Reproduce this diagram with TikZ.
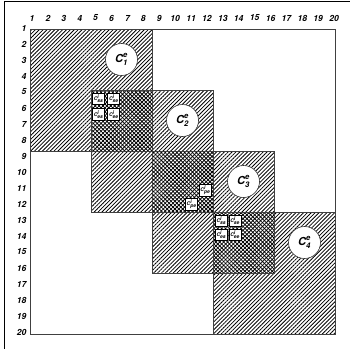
\documentclass[tikz,border=0pt]{standalone}
\usepackage{fontspec}
\usepackage{amsmath}
\setmainfont{TeX Gyre Heros}
\usetikzlibrary{patterns.meta}
\tikzset{
  hatch/.style={pattern={Lines[angle=45,distance=2.75pt,line width=0.8pt]}},
  hatchb/.style={pattern={Lines[angle=-45,distance=2.75pt,line width=0.8pt]}},
  blockline/.style={draw=black!75,line width=0.9pt},
  axislab/.style={font=\fontsize{8.5}{10}\selectfont\bfseries\itshape,inner sep=0pt},
  circ/.style={circle,draw=black!80,line width=0.6pt,fill=white,minimum size=32pt,inner sep=0pt,font=\fontsize{11}{12}\selectfont\bfseries},
  sbox/.style={rectangle,draw=black,line width=0.9pt,fill=white,minimum width=12pt,minimum height=11.5pt,inner sep=0pt,font=\fontsize{5}{6}\selectfont\bfseries}
}
\begin{document}
\begin{tikzpicture}[x=1pt,y=-1pt]
\useasboundingbox (0,0) rectangle (350,349);
\fill[white] (0,0) rectangle (350,349);
% frame lines
\coordinate (tl) at (4,1);
\coordinate (tr) at (350,1);
\coordinate (bl) at (4,349);
\draw[line width=0.8pt] (tr) -- (tl) -- (bl);
% axis labels
\foreach \i in {1,...,20}{
  \node[axislab] (col\i) at ({32+(\i-1)*15.9},18) {\i};
  \node[axislab,anchor=east] (row\i) at (26.5,{28+(\i-1)*16}) {\i};
}
\begin{scope}[shift={(30,29)},x=15.25pt,y=-15.25pt]
  \fill[white] (0,0) rectangle (20,20);
  \foreach \a in {0,4,8,12}{
    \fill[hatch] (\a,\a) rectangle ++(8,8);
  }
  \foreach \a in {4,8,12}{
    \fill[white] (\a,\a) rectangle ++(4,4);
    \fill[hatch] (\a,\a) rectangle ++(4,4);
    \fill[hatchb] (\a,\a) rectangle ++(4,4);
  }
  \draw[blockline] (0,0) rectangle (20,20);
  \foreach \a in {0,4,8,12}{
    \draw[blockline] (\a,\a) rectangle ++(8,8);
  }
  % circles
  \node[circ] (c1) at (6,2) {$\textit{C}^{\textit{e}}_{\textit{1}}$};
  \node[circ] (c2) at (10,6) {$\textit{C}^{\textit{e}}_{\textit{2}}$};
  \node[circ] (c3) at (14,10) {$\textit{C}^{\textit{e}}_{\textit{3}}$};
  \node[circ] (c4) at (18,14) {$\textit{C}^{\textit{e}}_{\textit{4}}$};
  % small boxes C1/C2
  \node[sbox] (a1) at (4.5,4.6) {$\textit{C}^{\textit{i}}_{\textit{ss}}$};
  \node[sbox] (a2) at (5.5,4.6) {$\textit{C}^{\textit{i}}_{\textit{se}}$};
  \node[sbox] (a3) at (4.5,5.6) {$\textit{C}^{\textit{i}}_{\textit{es}}$};
  \node[sbox] (a4) at (5.5,5.6) {$\textit{C}^{\textit{i}}_{\textit{ee}}$};
  % small boxes C2/C3
  \node[sbox] (b1) at (11.5,10.6) {$\textit{C}^{\textit{i}}_{\textit{pe}}$};
  \node[sbox] (b2) at (10.6,11.5) {$\textit{C}^{\textit{i}}_{\textit{pe}}$};
  % small boxes C3/C4
  \node[sbox] (d1) at (12.55,12.6) {$\textit{C}^{\textit{i}}_{\textit{ss}}$};
  \node[sbox] (d2) at (13.45,12.6) {$\textit{C}^{\textit{i}}_{\textit{se}}$};
  \node[sbox] (d3) at (12.55,13.5) {$\textit{C}^{\textit{i}}_{\textit{es}}$};
  \node[sbox] (d4) at (13.45,13.5) {$\textit{C}^{\textit{i}}_{\textit{ee}}$};
\end{scope}
\end{tikzpicture}
\end{document}
